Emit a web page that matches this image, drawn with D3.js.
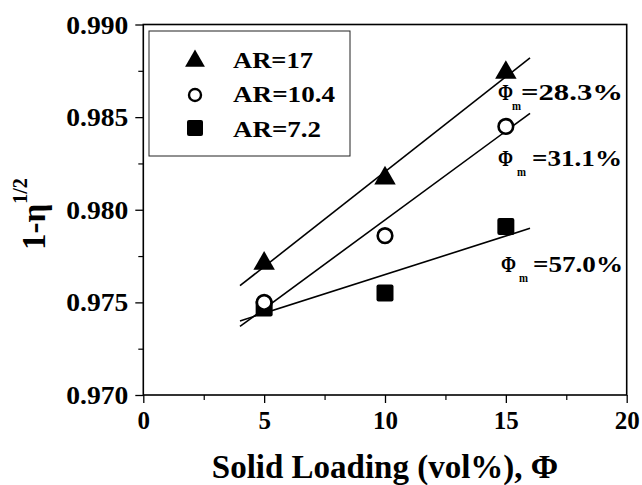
<!DOCTYPE html>
<html>
<head>
<meta charset="utf-8">
<script src="https://cdn.jsdelivr.net/npm/d3@7"></script>
<style>
  body { margin: 0; background: #fff; }
</style>
</head>
<body>
<svg id="chart" width="642" height="485"></svg>
<script>
// data
const phi = [5, 10, 15]
const ar17 = [0.9771, 0.9817, 0.9874]
const ar104 = [0.9750, 0.9786, 0.9845]
const ar72 = [0.9747, 0.9755, 0.9791]

// linear fit lines, endpoints
const fitX = [4, 16]
const fit17 = [0.9759, 0.9882]
const fit104 = [0.9737, 0.9852]
const fit72 = [0.9740, 0.9790]

const legendLabels = ['AR=17', 'AR=10.4', 'AR=7.2']
const phiLabels = ['=28.3%', '=31.1%', '=57.0%']

const xTicks = [0, 5, 10, 15, 20]
const xMinor = [2.5, 7.5, 12.5, 17.5]
const yTicks = [0.970, 0.975, 0.980, 0.985, 0.990]
const yMinor = [0.9725, 0.9775, 0.9825, 0.9875]

const svg = d3.select('#chart')

/* 画布区域 */
const pLeft = 143.3, pRight = 626.7, pTop = 24.5, pBottom = 395

const x = d3.scaleLinear().domain([0, 20]).range([pLeft, pRight])
const y = d3.scaleLinear().domain([0.970, 0.990]).range([pBottom, pTop])

/* 拉伸文字宽度 */
const stretch = (sel, w) => sel.attr('textLength', w).attr('lengthAdjust', 'spacingAndGlyphs')

/* x axis */
const gx = svg.append('g').attr('transform', `translate(0,${pBottom})`)
gx.call(d3.axisBottom(x).tickValues(xTicks).tickSize(8).tickSizeOuter(0).tickFormat(d3.format('d')))
gx.select('.domain').remove()
gx.selectAll('line').attr('stroke', '#000').attr('stroke-width', 1.3)
gx.selectAll('text').attr('y', 34).attr('dy', 0).style('font-size', '25px')
gx.append('g').call(d3.axisBottom(x).tickValues(xMinor).tickSize(5).tickFormat(''))
  .call(g => g.select('.domain').remove())
  .selectAll('line').attr('stroke', '#000').attr('stroke-width', 1.2)

/* y axis */
const gy = svg.append('g').attr('transform', `translate(${pLeft},0)`)
gy.call(d3.axisLeft(y).tickValues(yTicks).tickSize(8).tickSizeOuter(0).tickFormat(d3.format('.3f')))
gy.select('.domain').remove()
gy.selectAll('line').attr('stroke', '#000').attr('stroke-width', 1.3)
gy.selectAll('text').attr('x', -15).attr('dy', '0.33em').style('font-size', '26px')
  .call(s => stretch(s, 62))
gy.append('g').call(d3.axisLeft(y).tickValues(yMinor).tickSize(5).tickFormat(''))
  .call(g => g.select('.domain').remove())
  .selectAll('line').attr('stroke', '#000').attr('stroke-width', 1.2)

/* frame */
svg.append('rect')
  .attr('x', pLeft).attr('y', pTop)
  .attr('width', pRight - pLeft).attr('height', pBottom - pTop)
  .attr('fill', 'none').attr('stroke', '#000').attr('stroke-width', 1.6)

/* fit lines */
const line = d3.line().x(d => x(d[0])).y(d => y(d[1]))
;[fit17, fit104, fit72].forEach(f => {
  svg.append('path')
    .datum(fitX.map((v, i) => [v, f[i]]))
    .attr('d', line)
    .attr('fill', 'none').attr('stroke', '#000').attr('stroke-width', 1.6)
})

/* markers */
const tri = d3.symbol().type(d3.symbolTriangle).size(200)
svg.selectAll('.sq')
  .data(phi.map((v, i) => [v, ar72[i]]))
  .join('rect').classed('sq', true)
  .attr('x', d => x(d[0]) - 8.5).attr('y', d => y(d[1]) - 8.5)
  .attr('width', 17).attr('height', 17).attr('rx', 2)
  .attr('fill', '#000')
svg.selectAll('.circ')
  .data(phi.map((v, i) => [v, ar104[i]]))
  .join('circle').classed('circ', true)
  .attr('cx', d => x(d[0])).attr('cy', d => y(d[1])).attr('r', 7.3)
  .attr('fill', '#fff').attr('stroke', '#000').attr('stroke-width', 2.6)
svg.selectAll('.tri')
  .data(phi.map((v, i) => [v, ar17[i]]))
  .join('path').classed('tri', true)
  .attr('transform', d => `translate(${x(d[0])},${y(d[1])})`)
  .attr('d', tri).attr('fill', '#000')

/* legend */
svg.append('rect')
  .attr('x', 149).attr('y', 31).attr('width', 201).attr('height', 125)
  .attr('fill', 'none').attr('stroke', '#222').attr('stroke-width', 1)
const legY = [61, 95, 128], legBase = [68, 102, 137], legW = [80, 102, 88]
svg.append('path').attr('transform', `translate(195,${legY[0]})`)
  .attr('d', d3.symbol().type(d3.symbolTriangle).size(170)).attr('fill', '#000')
svg.append('circle').attr('cx', 195).attr('cy', legY[1]).attr('r', 6)
  .attr('fill', '#fff').attr('stroke', '#000').attr('stroke-width', 2.4)
svg.append('rect').attr('x', 187).attr('y', legY[2] - 8).attr('width', 16).attr('height', 16)
  .attr('rx', 2).attr('fill', '#000')
legendLabels.forEach((t, i) => {
  svg.append('text').attr('x', 233).attr('y', legBase[i]).style('font-size', '23px').text(t)
    .call(s => stretch(s, legW[i]))
})

/* Φm labels */
const phiPos = [
  {fx: 498, base: 100, mx: 512, eqx: 521, w: 102},
  {fx: 498, base: 166, mx: 517, eqx: 532, w: 90},
  {fx: 501, base: 272, mx: 519, eqx: 533, w: 90}
]
phiLabels.forEach((t, i) => {
  const p = phiPos[i]
  svg.append('text').attr('x', p.fx).attr('y', p.base).style('font-size', '23px').text('Φ')
    .call(s => stretch(s, 15))
  svg.append('text').attr('x', p.mx).attr('y', p.base + 10).style('font-size', '13px').text('m')
    .call(s => stretch(s, 9))
  svg.append('text').attr('x', p.eqx).attr('y', p.base).style('font-size', '23px').text(t)
    .call(s => stretch(s, p.w))
})

/* axis titles */
svg.append('text')
  .attr('x', (pLeft + pRight) / 2).attr('y', 478)
  .attr('text-anchor', 'middle').style('font-size', '33px')
  .text('Solid Loading (vol%), Φ')

const yt = svg.append('text')
  .attr('transform', 'translate(45,250) rotate(-90)')
  .style('font-size', '33px')
yt.append('tspan').text('1-η')
yt.append('tspan').attr('dy', -18).style('font-size', '20px').text('1/2')

/* 字体统一 */
svg.selectAll('text')
  .style('font-family', '"Liberation Serif"')
  .style('font-weight', 'bold')
  .attr('fill', '#000')
</script>
</body>
</html>
